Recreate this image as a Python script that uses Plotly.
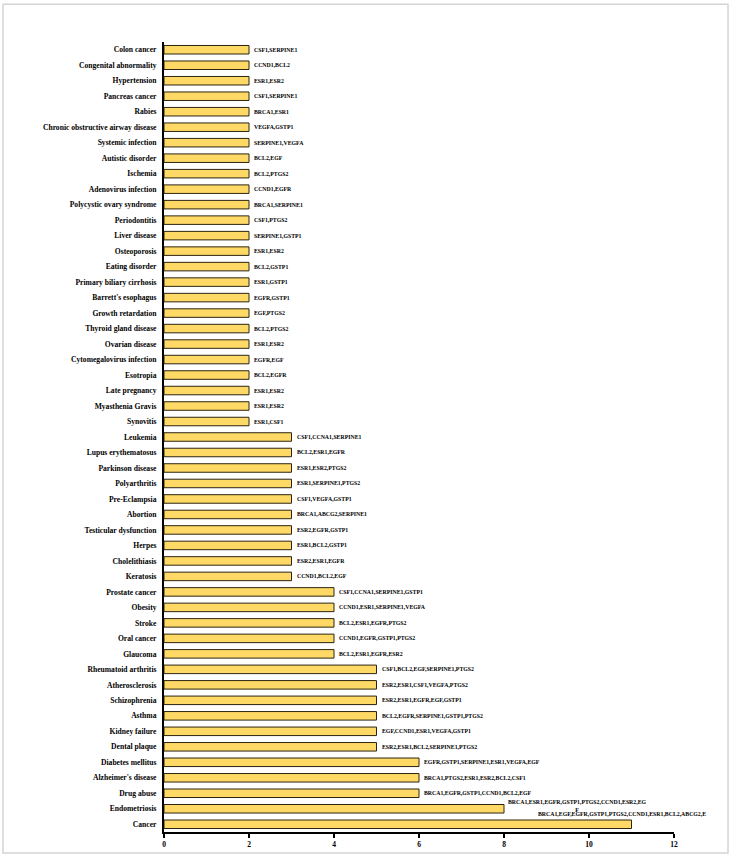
import plotly.graph_objects as go

diseases = [
    "Colon cancer", "Congenital abnormality", "Hypertension", "Pancreas cancer", "Rabies",
    "Chronic obstructive airway disease", "Systemic infection", "Autistic disorder", "Ischemia",
    "Adenovirus infection", "Polycystic ovary syndrome", "Periodontitis", "Liver disease",
    "Osteoporosis", "Eating disorder", "Primary biliary cirrhosis", "Barrett's esophagus",
    "Growth retardation", "Thyroid gland disease", "Ovarian disease", "Cytomegalovirus infection",
    "Esotropia", "Late pregnancy", "Myasthenia Gravis", "Synovitis", "Leukemia",
    "Lupus erythematosus", "Parkinson disease", "Polyarthritis", "Pre-Eclampsia", "Abortion",
    "Testicular dysfunction", "Herpes", "Cholelithiasis", "Keratosis", "Prostate cancer",
    "Obesity", "Stroke", "Oral cancer", "Glaucoma", "Rheumatoid arthritis", "Atherosclerosis",
    "Schizophrenia", "Asthma", "Kidney failure", "Dental plaque", "Diabetes mellitus",
    "Alzheimer's disease", "Drug abuse", "Endometriosis", "Cancer",
]

gene_counts = [
    2, 2, 2, 2, 2, 2, 2, 2, 2, 2, 2, 2, 2, 2, 2, 2, 2, 2, 2, 2, 2, 2, 2, 2, 2,
    3, 3, 3, 3, 3, 3, 3, 3, 3, 3,
    4, 4, 4, 4, 4,
    5, 5, 5, 5, 5, 5,
    6, 6, 6,
    8, 11,
]

gene_labels = [
    "CSF1,SERPINE1", "CCND1,BCL2", "ESR1,ESR2", "CSF1,SERPINE1", "BRCA1,ESR1",
    "VEGFA,GSTP1", "SERPINE1,VEGFA", "BCL2,EGF", "BCL2,PTGS2", "CCND1,EGFR",
    "BRCA1,SERPINE1", "CSF1,PTGS2", "SERPINE1,GSTP1", "ESR1,ESR2", "BCL2,GSTP1",
    "ESR1,GSTP1", "EGFR,GSTP1", "EGF,PTGS2", "BCL2,PTGS2", "ESR1,ESR2",
    "EGFR,EGF", "BCL2,EGFR", "ESR1,ESR2", "ESR1,ESR2", "ESR1,CSF1",
    "CSF1,CCNA1,SERPINE1", "BCL2,ESR1,EGFR", "ESR1,ESR2,PTGS2", "ESR1,SERPINE1,PTGS2",
    "CSF1,VEGFA,GSTP1", "BRCA1,ABCG2,SERPINE1", "ESR2,EGFR,GSTP1", "ESR1,BCL2,GSTP1",
    "ESR2,ESR1,EGFR", "CCND1,BCL2,EGF",
    "CSF1,CCNA1,SERPINE1,GSTP1", "CCND1,ESR1,SERPINE1,VEGFA", "BCL2,ESR1,EGFR,PTGS2",
    "CCND1,EGFR,GSTP1,PTGS2", "BCL2,ESR1,EGFR,ESR2",
    "CSF1,BCL2,EGF,SERPINE1,PTGS2", "ESR2,ESR1,CSF1,VEGFA,PTGS2", "ESR2,ESR1,EGFR,EGF,GSTP1",
    "BCL2,EGFR,SERPINE1,GSTP1,PTGS2", "EGF,CCND1,ESR1,VEGFA,GSTP1",
    "ESR2,ESR1,BCL2,SERPINE1,PTGS2",
    "EGFR,GSTP1,SERPINE1,ESR1,VEGFA,EGF", "BRCA1,PTGS2,ESR1,ESR2,BCL2,CSF1",
    "BRCA1,EGFR,GSTP1,CCND1,BCL2,EGF",
    "BRCA1,ESR1,EGFR,GSTP1,PTGS2,CCND1,ESR2,EG<br>F",
    "BRCA1,EGF,EGFR,GSTP1,PTGS2,CCND1,ESR1,BCL2,ABCG2,E",
]

x_ticks = [0, 2, 4, 6, 8, 10, 12]

SERIF = "Liberation Serif, Times New Roman, serif"

fig = go.Figure()
fig.add_trace(go.Bar(
    x=gene_counts,
    y=diseases,
    orientation="h",
    width=0.55,
    marker=dict(color="#FFD966", line=dict(color="#2b2410", width=1)),
    hoverinfo="x+y",
))

annotations = []
n = len(diseases)
for i, (d, v, lab) in enumerate(zip(diseases, gene_counts, gene_labels)):
    ann = dict(
        x=v, y=d, xref="x", yref="y", text=lab, showarrow=False,
        font=dict(family=SERIF, size=5.8, color="black", weight="bold"),
        xanchor="left", yanchor="middle", xshift=4, align="center",
        borderpad=0,
    )
    if i == n - 2:  # wrapped label
        ann.update(yshift=3, xshift=3)
    if i == n - 1:  # label placed above the longest bar
        ann.update(xanchor="center", xshift=-10, yshift=10)
    annotations.append(ann)

fig.update_layout(
    width=732, height=861,
    margin=dict(l=164, r=58, t=42, b=26),
    paper_bgcolor="white", plot_bgcolor="white",
    showlegend=False,
    bargap=0.45,
    annotations=annotations,
    xaxis=dict(
        range=[0, 12], tickvals=x_ticks, ticktext=[str(t) for t in x_ticks],
        showgrid=False, zeroline=False,
        showline=True, linecolor="black", linewidth=2,
        ticks="outside", ticklen=4, tickwidth=1.5, tickcolor="black",
        tickfont=dict(family=SERIF, size=7.5, color="black", weight="bold"),
    ),
    yaxis=dict(
        categoryorder="array", categoryarray=diseases, autorange="reversed",
        range=[n - 0.5, -0.5],
        showgrid=False, zeroline=False,
        showline=True, linecolor="black", linewidth=2,
        ticks="", ticklabelstandoff=4,
        tickfont=dict(family=SERIF, size=7.6, color="black", weight="bold"),
    ),
    shapes=[dict(
        type="rect", xref="paper", yref="paper",
        x0=-0.3157, x1=1.1059, y0=-0.0265, y1=1.0479,
        line=dict(color="#d4d4d4", width=1.5), fillcolor="rgba(0,0,0,0)",
        layer="below",
    )],
)

fig.write_html(
    "out.html",
    config={"displayModeBar": False},
    post_script="document.body.style.margin='0';document.body.style.overflow='hidden';",
)
